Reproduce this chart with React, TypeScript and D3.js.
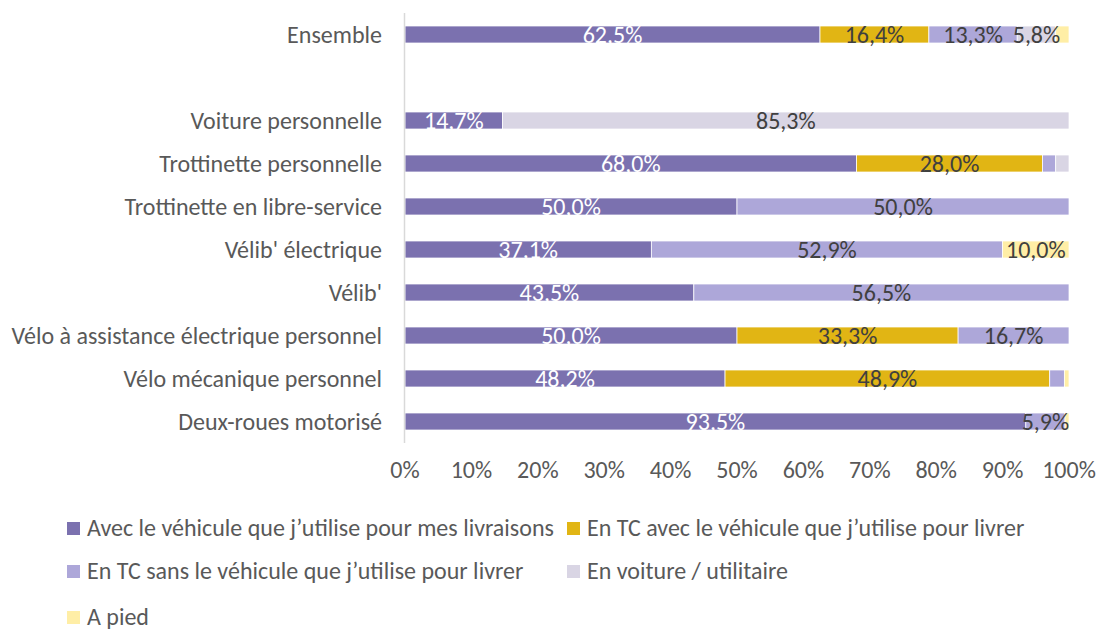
import React from "react";
import * as d3 from "d3";

const categories = [
  "Ensemble",
  "",
  "Voiture personnelle",
  "Trottinette personnelle",
  "Trottinette en libre-service",
  "Vélib' électrique",
  "Vélib'",
  "Vélo à assistance électrique personnel",
  "Vélo mécanique personnel",
  "Deux-roues motorisé",
];

const seriesNames = [
  "Avec le véhicule que j’utilise pour mes livraisons",
  "En TC avec le véhicule que j’utilise pour livrer",
  "En TC sans le véhicule que j’utilise pour livrer",
  "En voiture / utilitaire",
  "A pied",
];

const avecVehicule = [62.5, 0, 14.7, 68.0, 50.0, 37.1, 43.5, 50.0, 48.2, 93.5];
const tcAvec = [16.4, 0, 0, 28.0, 0, 0, 0, 33.3, 48.9, 0];
const tcSans = [13.3, 0, 0, 2.0, 50.0, 52.9, 56.5, 16.7, 2.2, 5.9];
const voiture = [5.8, 0, 85.3, 2.0, 0, 0, 0, 0, 0, 0];
const aPied = [2.0, 0, 0, 0, 0, 10.0, 0, 0, 0.7, 0.6];

const tickValues = [0, 10, 20, 30, 40, 50, 60, 70, 80, 90, 100];

const colors = ["#7B71AF", "#E1B514", "#ADA7D9", "#D9D5E4", "#FFEEA6"];
const labelColors = ["#FFFFFF", "#404040", "#404040", "#404040", "#404040"];

const FONT = "Carlito, Calibri, Lato, 'Open Sans', sans-serif";
const FS = 24;

export default function App() {
  const width = 1103;
  const height = 630;
  const seriesValues = [avecVehicule, tcAvec, tcSans, voiture, aPied];

  const x = d3.scaleLinear().domain([0, 100]).range([405, 1069]);
  const y = d3
    .scaleBand<string>()
    .domain(categories.map((c, i) => String(i)))
    .range([13, 443])
    .paddingInner(0.6)
    .paddingOuter(0.3);

  const rows = categories.map((c, i) => {
    const obj: Record<string, number> = {};
    seriesValues.forEach((s, k) => (obj["s" + k] = s[i]));
    return obj;
  });
  const stack = d3.stack<Record<string, number>>().keys(seriesNames.map((_, k) => "s" + k));
  const stacked = stack(rows);

  const bh = 17;
  const fmt = (v: number) => v.toFixed(1).replace(".", ",") + "%";

  const legendItems = [
    { k: 0, x: 67, y: 522 },
    { k: 1, x: 567, y: 522 },
    { k: 2, x: 67, y: 565 },
    { k: 3, x: 567, y: 565 },
    { k: 4, x: 67, y: 611 },
  ];

  return (
    <svg width={width} height={height} style={{ position: "absolute", left: 0, top: 0, fontFamily: FONT }}>
      <rect x={0} y={0} width={width} height={height} fill="#FFFFFF" />
      {stacked.map((layer, k) => (
        <g key={k}>
          {layer.map((d, i) => {
            const v = d[1] - d[0];
            if (!categories[i] || v <= 0) return null;
            const cy = (y(String(i)) as number) + y.bandwidth() / 2;
            return (
              <rect
                key={i}
                x={x(d[0])}
                y={cy - bh / 2}
                width={x(d[1]) - x(d[0])}
                height={bh}
                fill={colors[k]}
                stroke="#FFFFFF"
                strokeWidth={0.75}
              />
            );
          })}
        </g>
      ))}
      {stacked.map((layer, k) => (
        <g key={"l" + k}>
          {layer.map((d, i) => {
            const v = d[1] - d[0];
            if (!categories[i] || v < 5) return null;
            const cy = (y(String(i)) as number) + y.bandwidth() / 2;
            return (
              <text
                key={i}
                x={(x(d[0]) + x(d[1])) / 2}
                y={cy + 8}
                textAnchor="middle"
                fontSize={FS}
                fill={labelColors[k]}
              >
                {fmt(v)}
              </text>
            );
          })}
        </g>
      ))}
      <line x1={404.5} x2={404.5} y1={13} y2={443} stroke="#D9D9D9" strokeWidth={1.5} />
      {categories.map((c, i) =>
        c ? (
          <text
            key={i}
            x={382}
            y={(y(String(i)) as number) + y.bandwidth() / 2 + 8}
            textAnchor="end"
            fontSize={FS}
            fill="#595959"
          >
            {c}
          </text>
        ) : null
      )}
      {tickValues.map((t) => (
        <text key={t} x={x(t)} y={478} textAnchor="middle" fontSize={FS} fill="#595959">
          {t + "%"}
        </text>
      ))}
      {legendItems.map((it) => (
        <g key={it.k}>
          <rect x={it.x} y={it.y} width={13} height={13} fill={colors[it.k]} />
          <text x={it.x + 20} y={it.y + 14} fontSize={FS} fill="#595959">
            {seriesNames[it.k]}
          </text>
        </g>
      ))}
    </svg>
  );
}
